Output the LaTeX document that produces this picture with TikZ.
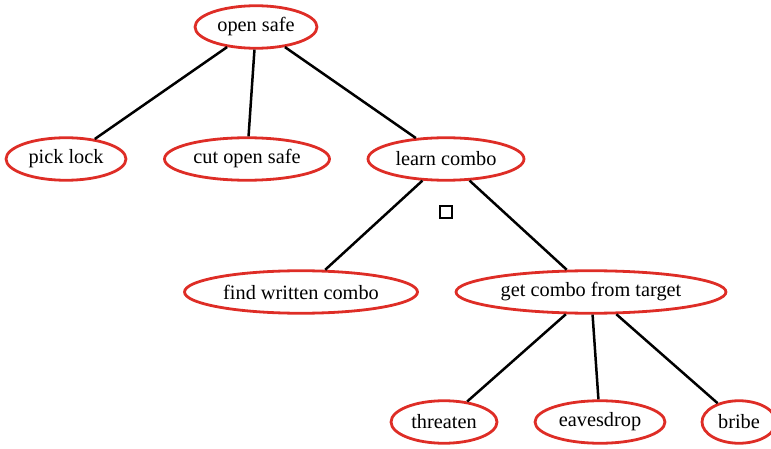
\documentclass[tikz,border=0pt]{standalone}
\usepackage{fontspec}
\setmainfont{Liberation Serif}
\usetikzlibrary{shapes.geometric}
\definecolor{ered}{RGB}{222,45,38}
\begin{document}
\begin{tikzpicture}[x=1pt,y=-1pt,
  goal/.style={ellipse,draw=ered,line width=2.8pt,inner sep=0pt,
    minimum height=42.5pt,font=\fontsize{20.3}{24}\selectfont},
  edge/.style={line width=2.5pt,black},
  andbox/.style={rectangle,draw=black,line width=2.7pt,minimum size=12pt,inner sep=0pt}]
\useasboundingbox (0,0) rectangle (771,449);
\begin{scope}
\clip (0,0) rectangle (771,449);
\node[goal,minimum width=122pt] (os) at (256,27) {open safe};
\node[goal,minimum width=120pt] (pl) at (66,159) {pick lock};
\node[goal,minimum width=165pt] (co) at (247,159) {cut open safe};
\node[goal,minimum width=156pt] (lc) at (446,159) {learn combo};
\node[goal,minimum width=233pt] (fw) at (301,292) {find written combo};
\node[goal,minimum width=270pt] (gc) at (591,292) {get combo from target};
\node[goal,minimum width=106pt] (th) at (444,422) {threaten};
\node[goal,minimum width=130pt] (ev) at (600,422) {eavesdrop};
\node[goal,minimum width=74pt] (br) at (739,422) {bribe};
\node[andbox] (and) at (446,212) {};
\draw[edge] (os) -- (pl);
\draw[edge] (os) -- (co);
\draw[edge] (os) -- (lc);
\draw[edge] (lc) -- (fw);
\draw[edge] (lc) -- (gc);
\draw[edge] (gc) -- (th);
\draw[edge] (gc) -- (ev);
\draw[edge] (gc) -- (br);
\end{scope}
\end{tikzpicture}
\end{document}
